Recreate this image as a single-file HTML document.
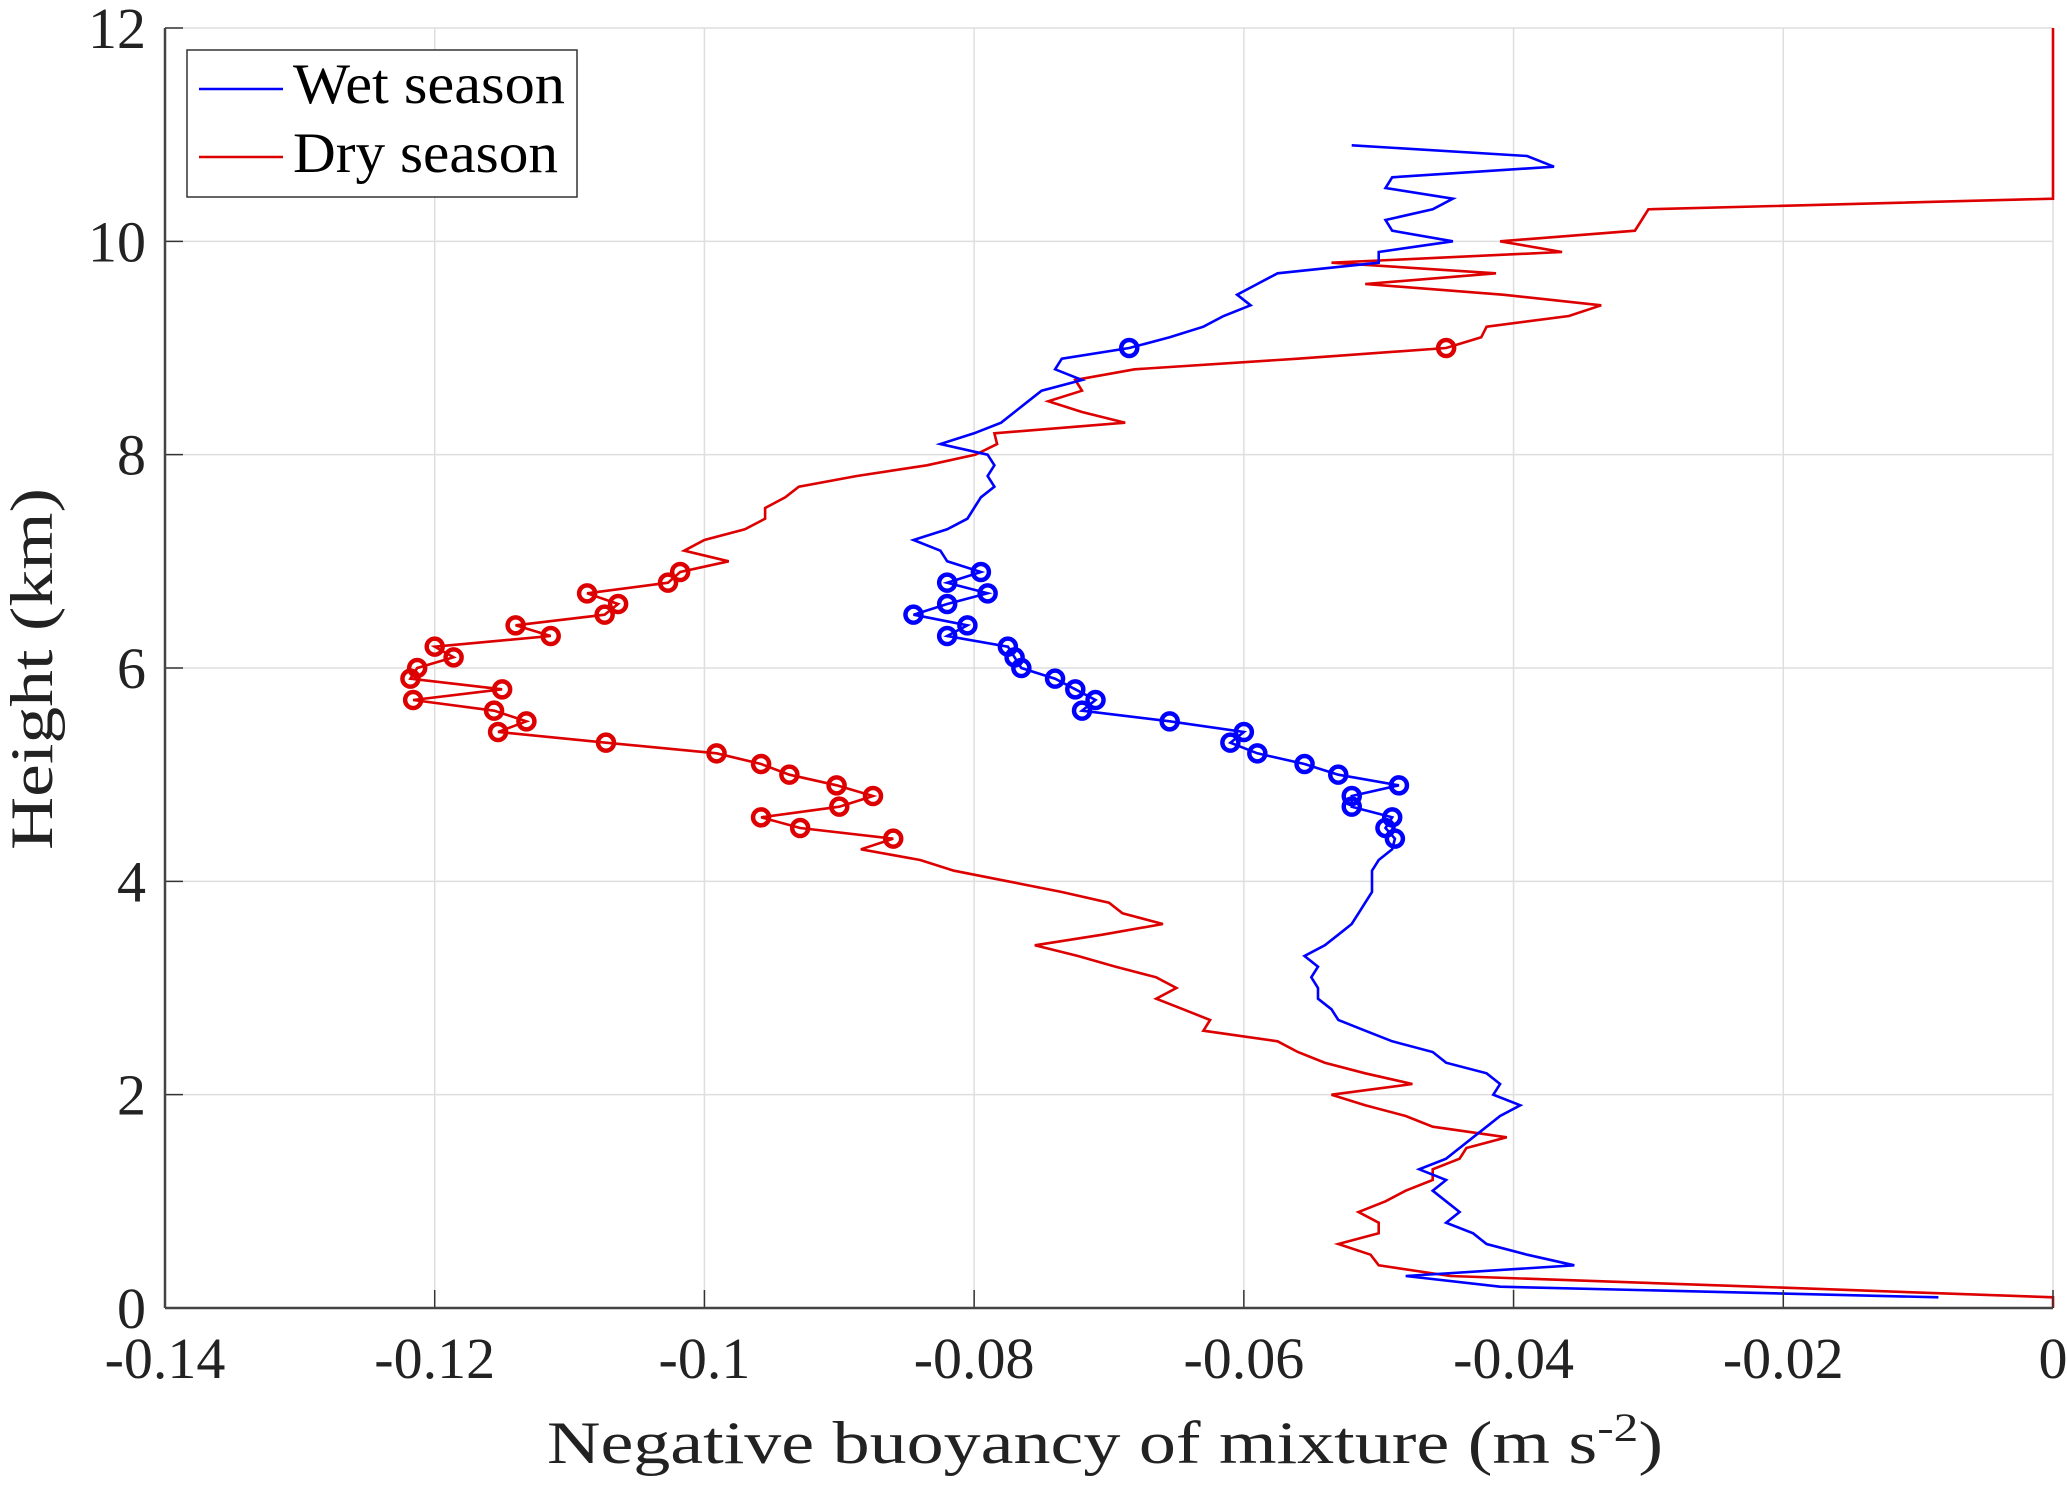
<!DOCTYPE html>
<html><head><meta charset="utf-8"><style>
html,body{margin:0;padding:0;background:#fff;}
svg, svg text{font-family:"Liberation Serif","DejaVu Serif",serif;}
</style></head><body>
<svg id="chart" width="2067" height="1480" viewBox="0 0 2067 1480" xmlns="http://www.w3.org/2000/svg" font-family="Liberation Serif, DejaVu Serif, serif">
<rect width="2067" height="1480" fill="#fff"/>
<g id="grid"></g>
<g id="series"></g>
<g id="axes"></g>
<text x="547" y="1463" font-size="60" textLength="1116" lengthAdjust="spacingAndGlyphs" fill="#222">Negative buoyancy of mixture (m s<tspan dy="-22" font-size="40">-2</tspan><tspan dy="22">)</tspan></text>
<text transform="translate(52,669) rotate(-90)" x="-181" y="0" font-size="60" textLength="362" lengthAdjust="spacingAndGlyphs" fill="#222">Height (km)</text>
<g>
<rect x="187" y="50" width="390" height="147" fill="#fff" stroke="#333" stroke-width="1.5"/>
<g>
<line x1="199" y1="89" x2="283" y2="89" stroke="#0000ff" stroke-width="2.5"/>
<text x="293" y="103" font-size="57" textLength="272" lengthAdjust="spacingAndGlyphs" fill="#000">Wet season</text></g>
<g>
<line x1="199" y1="157" x2="283" y2="157" stroke="#dd0000" stroke-width="2.5"/>
<text x="293" y="172" font-size="57" textLength="265" lengthAdjust="spacingAndGlyphs" fill="#000">Dry season</text></g>
</g>
</svg>
<script>
const xTicks = [-0.14,-0.12,-0.1,-0.08,-0.06,-0.04,-0.02,0];
const xTickLabels = ["-0.14","-0.12","-0.1","-0.08","-0.06","-0.04","-0.02","0"];
const yTicks = [0,2,4,6,8,10,12];
const yTickLabels = ["0","2","4","6","8","10","12"];
const wetHeights = [0.1,0.2,0.3,0.4,0.5,0.6,0.7,0.8,0.9,1.0,1.1,1.2,1.3,1.4,1.5,1.6,1.7,1.8,1.9,2.0,2.1,2.2,2.3,2.4,2.5,2.6,2.7,2.8,2.9,3.0,3.1,3.2,3.3,3.4,3.5,3.6,3.7,3.8,3.9,4.0,4.1,4.2,4.3,4.4,4.5,4.6,4.7,4.8,4.9,5.0,5.1,5.2,5.3,5.4,5.5,5.6,5.7,5.8,5.9,6.0,6.1,6.2,6.3,6.4,6.5,6.6,6.7,6.8,6.9,7.0,7.1,7.2,7.3,7.4,7.5,7.6,7.7,7.8,7.9,8.0,8.1,8.2,8.3,8.4,8.5,8.6,8.7,8.8,8.9,9.0,9.1,9.2,9.3,9.4,9.5,9.6,9.7,9.8,9.9,10.0,10.1,10.2,10.3,10.4,10.5,10.6,10.7,10.8,10.9];
const wetValues = [-0.0085,-0.041,-0.048,-0.0355,-0.039,-0.042,-0.043,-0.045,-0.044,-0.045,-0.046,-0.045,-0.047,-0.045,-0.044,-0.043,-0.042,-0.041,-0.0395,-0.0415,-0.041,-0.042,-0.045,-0.046,-0.049,-0.051,-0.053,-0.0535,-0.0545,-0.0545,-0.055,-0.0545,-0.0555,-0.054,-0.053,-0.052,-0.0515,-0.051,-0.0505,-0.0505,-0.0505,-0.050,-0.049,-0.0488,-0.0495,-0.049,-0.052,-0.052,-0.0485,-0.053,-0.0555,-0.059,-0.061,-0.060,-0.0655,-0.072,-0.071,-0.0725,-0.074,-0.0765,-0.077,-0.0775,-0.082,-0.0805,-0.0845,-0.082,-0.079,-0.082,-0.0795,-0.082,-0.0825,-0.0845,-0.082,-0.0805,-0.080,-0.0795,-0.0785,-0.079,-0.0785,-0.079,-0.0825,-0.080,-0.078,-0.077,-0.076,-0.075,-0.072,-0.074,-0.0735,-0.0685,-0.0655,-0.063,-0.0615,-0.0595,-0.0605,-0.059,-0.0575,-0.050,-0.050,-0.0445,-0.049,-0.0495,-0.046,-0.0445,-0.0495,-0.049,-0.037,-0.039,-0.052];
const wetMarkerHeights = [4.4,4.5,4.6,4.7,4.8,4.9,5.0,5.1,5.2,5.3,5.4,5.5,5.6,5.7,5.8,5.9,6.0,6.1,6.2,6.3,6.4,6.5,6.6,6.7,6.8,6.9,9.0];
const dryHeights = [0,0.1,0.2,0.3,0.4,0.5,0.6,0.7,0.8,0.9,1.0,1.1,1.2,1.3,1.4,1.5,1.6,1.7,1.8,1.9,2.0,2.1,2.2,2.3,2.4,2.5,2.6,2.7,2.8,2.9,3.0,3.1,3.2,3.3,3.4,3.5,3.6,3.7,3.8,3.9,4.0,4.1,4.2,4.3,4.4,4.5,4.6,4.7,4.8,4.9,5.0,5.1,5.2,5.3,5.4,5.5,5.6,5.7,5.8,5.9,6.0,6.1,6.2,6.3,6.4,6.5,6.6,6.7,6.8,6.9,7.0,7.1,7.2,7.3,7.4,7.5,7.6,7.7,7.8,7.9,8.0,8.1,8.2,8.3,8.4,8.5,8.6,8.7,8.8,8.9,9.0,9.1,9.2,9.3,9.4,9.5,9.6,9.7,9.8,9.9,10.0,10.1,10.2,10.3,10.4,12.0];
const dryValues = [0,0,-0.022,-0.0447,-0.050,-0.0506,-0.053,-0.050,-0.050,-0.0515,-0.0495,-0.048,-0.046,-0.046,-0.044,-0.0435,-0.0405,-0.046,-0.048,-0.051,-0.0535,-0.0475,-0.051,-0.054,-0.056,-0.0575,-0.063,-0.0625,-0.0645,-0.0665,-0.065,-0.0665,-0.0695,-0.0723,-0.0755,-0.0705,-0.066,-0.069,-0.070,-0.0735,-0.0775,-0.0815,-0.084,-0.0884,-0.086,-0.0929,-0.0958,-0.090,-0.0875,-0.0902,-0.0937,-0.0958,-0.0991,-0.1073,-0.1153,-0.1132,-0.1156,-0.1216,-0.115,-0.1218,-0.1213,-0.1186,-0.120,-0.1114,-0.114,-0.1074,-0.1064,-0.1087,-0.1027,-0.1018,-0.0982,-0.1015,-0.100,-0.097,-0.0955,-0.0955,-0.094,-0.093,-0.0887,-0.0835,-0.0799,-0.0783,-0.0785,-0.0688,-0.072,-0.0745,-0.072,-0.0725,-0.0681,-0.056,-0.045,-0.0424,-0.042,-0.0359,-0.0335,-0.0408,-0.051,-0.0413,-0.0535,-0.0364,-0.041,-0.031,-0.0305,-0.030,0,0];
const dryMarkerHeights = [4.4,4.5,4.6,4.7,4.8,4.9,5.0,5.1,5.2,5.3,5.4,5.5,5.6,5.7,5.8,5.9,6.0,6.1,6.2,6.3,6.4,6.5,6.6,6.7,6.8,6.9,9.0];

const NS = "http://www.w3.org/2000/svg";
const L = 165, R = 2053, T = 28, B = 1308;
function xs(v){ return L + (v + 0.14) / 0.14 * (R - L); }
function ys(h){ return B - h / 12 * (B - T); }
function mk(tag, attrs, parent){ const e = document.createElementNS(NS, tag); for (const k in attrs) e.setAttribute(k, attrs[k]); parent.appendChild(e); return e; }
const grid = document.getElementById('grid'), axes = document.getElementById('axes'), series = document.getElementById('series');

xTicks.forEach((t, i) => {
  const gl = mk('line', {x1: xs(t), x2: xs(t), y1: T, y2: B, stroke: '#dedede', 'stroke-width': 1.5}, grid);
  
  
  const tk = mk('line', {x1: xs(t), x2: xs(t), y1: B, y2: B - 18, stroke: '#333', 'stroke-width': 1.5}, axes);
  
  
  const tx = mk('text', {x: xs(t), y: 1378, 'font-size': 58, 'text-anchor': 'middle', fill: '#222'}, axes);
  tx.textContent = xTickLabels[i];
  
  
});
yTicks.forEach((t, i) => {
  const gl = mk('line', {x1: L, x2: R, y1: ys(t), y2: ys(t), stroke: '#dedede', 'stroke-width': 1.5}, grid);
  
  
  const tk = mk('line', {x1: L, x2: L + 18, y1: ys(t), y2: ys(t), stroke: '#333', 'stroke-width': 1.5}, axes);
  
  
  const tx = mk('text', {x: 146, y: ys(t) + 20, 'font-size': 58, 'text-anchor': 'end', fill: '#222'}, axes);
  tx.textContent = yTickLabels[i];
  
  
});
const xa = mk('line', {x1: L, x2: R, y1: B, y2: B, stroke: '#444', 'stroke-width': 2.5}, axes);


const ya = mk('line', {x1: L, x2: L, y1: T, y2: B, stroke: '#444', 'stroke-width': 2.5}, axes);



function drawSeries(hs, vs, mh, color, name){
  const pts = hs.map((h, i) => xs(vs[i]).toFixed(1) + ',' + ys(h).toFixed(1)).join(' ');
  const pl = mk('polyline', {points: pts, fill: 'none', stroke: color, 'stroke-width': 2.6, 'stroke-linejoin': 'miter'}, series);
  
  
  mh.forEach(h => {
    const i = hs.findIndex(x => Math.abs(x - h) < 1e-6);
    if (i < 0) return;
    const c = mk('ellipse', {cx: xs(vs[i]), cy: ys(hs[i]), rx: 8, ry: 8, fill: 'none', stroke: color, 'stroke-width': 4.5}, series);
    
    
  });
}
drawSeries(dryHeights, dryValues, dryMarkerHeights, '#dd0000', 'dry-season');
drawSeries(wetHeights, wetValues, wetMarkerHeights, '#0000ff', 'wet-season');
</script>
</body></html>
